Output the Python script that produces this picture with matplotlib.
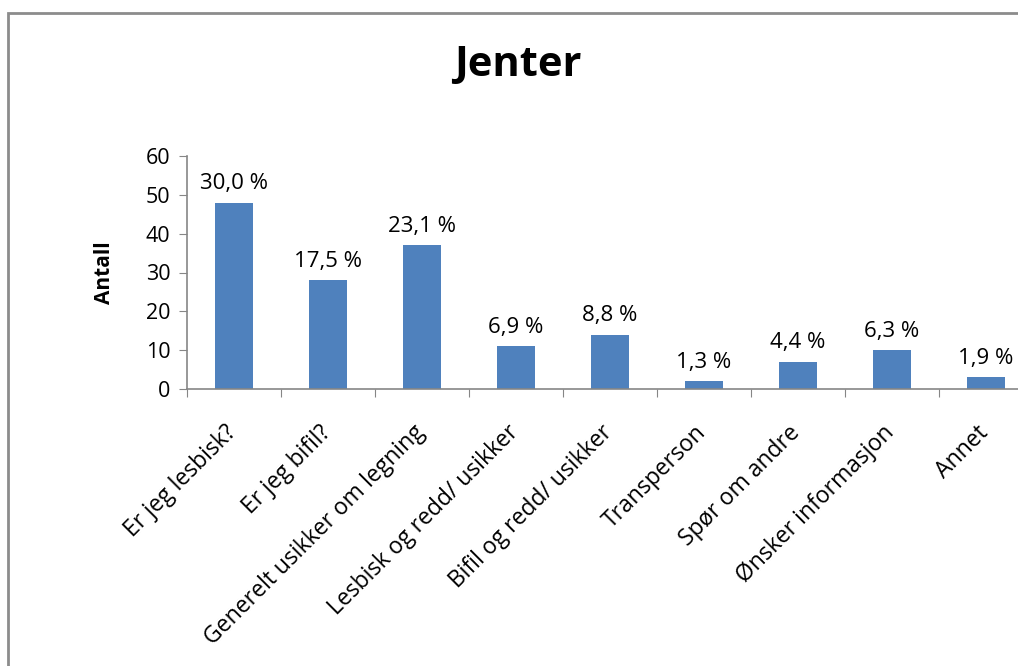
import matplotlib
matplotlib.use("Agg")
import matplotlib.pyplot as plt
from matplotlib.patches import Rectangle
from matplotlib.transforms import ScaledTranslation

categories = ["Er jeg lesbisk?", "Er jeg bifil?", "Generelt usikker om legning",
              "Lesbisk og redd/ usikker", "Bifil og redd/ usikker", "Transperson",
              "Spør om andre", "Ønsker informasjon", "Annet"]
counts = [48, 28, 37, 11, 14, 2, 7, 10, 3]
pct_labels = ["30,0 %", "17,5 %", "23,1 %", "6,9 %", "8,8 %", "1,3 %", "4,4 %", "6,3 %", "1,9 %"]
yticks = [0, 10, 20, 30, 40, 50, 60]

plt.rcParams['font.family'] = ['Open Sans', 'DejaVu Sans']
W, H = 1018, 666
fig = plt.figure(figsize=(W/100, H/100), dpi=100)

# outer frame
fig.patches.append(Rectangle((8/W, -0.1), 1.2, 1 - 13/H + 0.1, transform=fig.transFigure,
                             fill=False, edgecolor='#8c8c8c', linewidth=2))

left, right = 187/W, 1033/W
bottom, top = 1 - 389/H, 1 - 156/H
ax = fig.add_axes([left, bottom, right - left, top - bottom])
x = list(range(len(categories)))
ax.bar(x, counts, width=0.4, color='#4f81bd')
ax.set_xlim(-0.5, len(categories) - 0.5)
ax.set_ylim(0, 60)
for s in ['top', 'right']:
    ax.spines[s].set_visible(False)
for s in ['left', 'bottom']:
    ax.spines[s].set_color('#868686')
    ax.spines[s].set_linewidth(1.2)
ax.set_yticks(yticks)
ax.tick_params(axis='y', length=6, color='#868686', labelsize=15.5, pad=6)
ax.set_xticks([i - 0.5 for i in range(len(categories) + 1)])
ax.set_xticklabels([])
ax.tick_params(axis='x', length=6, color='#868686')
ax.set_xticks(x, minor=True)
ax.set_xticklabels(categories, minor=True, rotation=45, ha='right', va='center',
                   rotation_mode='anchor', fontsize=16.5)
ax.tick_params(axis='x', which='minor', length=0, pad=29)
shift = ScaledTranslation(-1/100, 0, fig.dpi_scale_trans)
for lab in ax.get_xticklabels(minor=True):
    lab.set_transform(lab.get_transform() + shift)

for xi, c, p in zip(x, counts, pct_labels):
    ax.annotate(p, (xi, c), xytext=(0, 6), textcoords='offset points', ha='center',
                va='bottom', fontsize=16)

ax.set_ylabel("Antall", fontsize=15, fontweight='bold', labelpad=22)
fig.text(518/W, 1 - 66/H, "Jenter", ha='center', va='center', fontsize=30, fontweight='bold')

fig.savefig("out.png", dpi=100)
